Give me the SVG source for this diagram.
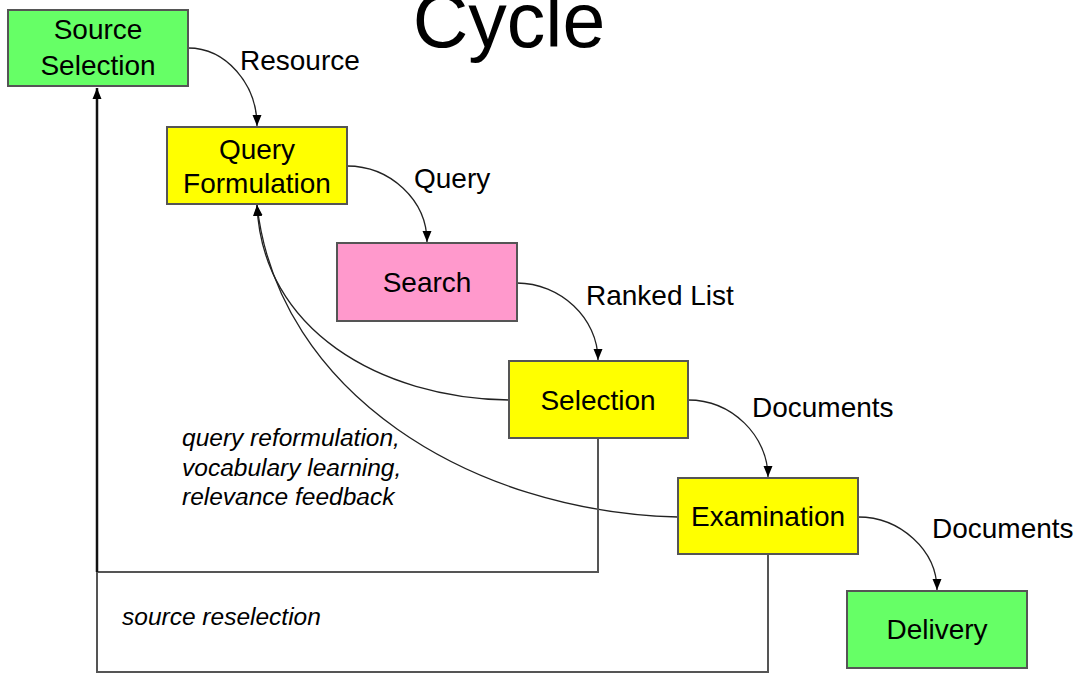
<svg xmlns="http://www.w3.org/2000/svg" width="1081" height="673" viewBox="0 0 1081 673">
  <style>
    .node rect { stroke: #555; stroke-width: 2; }
    .node text { font-family: "Liberation Sans", Arial, sans-serif; font-size: 28px; fill: #000; text-anchor: middle; }
    .green { fill: #66FF66; }
    .yellow { fill: #FFFF00; }
    .pink { fill: #FF99CC; }
    .flow { fill: none; stroke: #222; stroke-width: 1.3; }
    .loop { fill: none; stroke: #555; stroke-width: 2; }
    .label { font-family: "Liberation Sans", Arial, sans-serif; font-size: 28px; fill: #000; }
    .note { font-family: "Liberation Sans", Arial, sans-serif; font-size: 24.5px; font-style: italic; fill: #000; }
  </style>
  <defs>
    <marker id="arrow" markerUnits="userSpaceOnUse" markerWidth="12" markerHeight="12" viewBox="0 0 12 12" refX="11" refY="6" orient="auto">
      <path d="M0,1.5 L11,6 L0,10.5 Z" fill="#000"/>
    </marker>
  </defs>

  <rect width="1081" height="673" fill="#fff"/>

  <!-- title, partly above the top edge -->
  <text x="509" y="47" font-family="Liberation Sans, Arial, sans-serif" font-size="77" text-anchor="middle" fill="#000">Cycle</text>

  <!-- connectors -->
  <g id="connectors">
    <!-- forward flow -->
    <path class="flow" d="M188,48 C226,48 257,84 257,126" marker-end="url(#arrow)"/>
    <path class="flow" d="M347,166 C390,166 427,200 427,242" marker-end="url(#arrow)"/>
    <path class="flow" d="M517,283 C560,283 598,318 598,360" marker-end="url(#arrow)"/>
    <path class="flow" d="M688,400 C732,400 768,436 768,477" marker-end="url(#arrow)"/>
    <path class="flow" d="M858,517 C900,517 937,550 937,590" marker-end="url(#arrow)"/>
    <!-- feedback to query formulation -->
    <path class="flow" d="M509,400 C380,398 262,330 257,205" marker-end="url(#arrow)"/>
    <path class="flow" d="M678,517 C470,512 278,392 257,205" marker-end="url(#arrow)"/>
    <!-- source reselection loop -->
    <polyline class="loop" points="598,438 598,572 97,572"/>
    <polyline class="loop" points="768,554 768,672 97,672 97,572"/>
    <path d="M97,572 L97,88" fill="none" stroke="#111" stroke-width="2.5" marker-end="url(#arrow)"/>
  </g>

  <!-- edge labels -->
  <text class="label" x="240" y="70">Resource</text>
  <text class="label" x="414" y="188">Query</text>
  <text class="label" x="586" y="305">Ranked List</text>
  <text class="label" x="752" y="417">Documents</text>
  <text class="label" x="932" y="538">Documents</text>

  <text class="note" x="182" y="446">query reformulation,</text>
  <text class="note" x="182" y="476">vocabulary learning,</text>
  <text class="note" x="182" y="505">relevance feedback</text>
  <text class="note" x="122" y="625">source reselection</text>

  <!-- nodes -->
  <g id="source-selection" class="node">
    <rect class="green" x="8" y="10" width="180" height="76"/>
    <text x="98" y="39">Source</text>
    <text x="98" y="75">Selection</text>
  </g>
  <g id="query-formulation" class="node">
    <rect class="yellow" x="167" y="127" width="180" height="77"/>
    <text x="257" y="159">Query</text>
    <text x="257" y="193">Formulation</text>
  </g>
  <g id="search" class="node">
    <rect class="pink" x="337" y="243" width="180" height="78"/>
    <text x="427" y="292">Search</text>
  </g>
  <g id="selection" class="node">
    <rect class="yellow" x="509" y="361" width="179" height="77"/>
    <text x="598" y="410">Selection</text>
  </g>
  <g id="examination" class="node">
    <rect class="yellow" x="678" y="478" width="180" height="76"/>
    <text x="768" y="526">Examination</text>
  </g>
  <g id="delivery" class="node">
    <rect class="green" x="847" y="591" width="180" height="77"/>
    <text x="937" y="639">Delivery</text>
  </g>
</svg>
